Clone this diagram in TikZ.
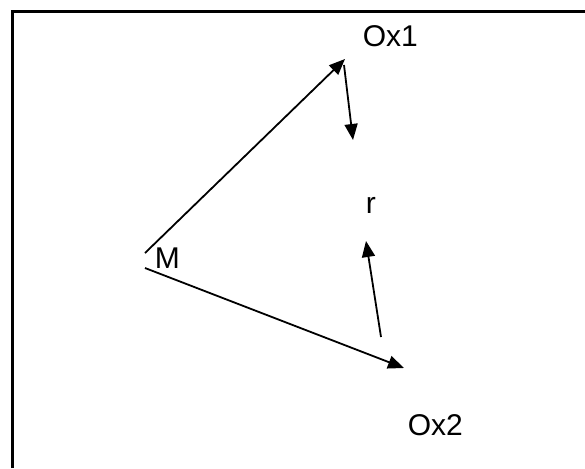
\documentclass[tikz,border=0pt]{standalone}
\usepackage{fontspec}
\setmainfont{Liberation Sans}
\usetikzlibrary{arrows.meta}

\begin{document}
\begin{tikzpicture}[x=1pt,y=-1pt,->,>={Triangle[length=16pt,width=13pt]},
   line width=1.8pt,
   lbl/.style={inner sep=0pt,anchor=base west,font=\fontsize{30}{32}\selectfont}]
\useasboundingbox (0,0) rectangle (585,468);
\draw[-,line width=3pt] (12,468) -- (12,12) -- (585,12);
\node[lbl] (ox1) at (362,47) {Ox1};
\node[lbl] (ox2) at (407,435) {Ox2};
\node[lbl] (r) at (365,213) {r};
\node[lbl] (m) at (154,268) {M};
\coordinate (m1) at (145,253);
\coordinate (m2) at (145,268);
\coordinate (t1) at (345,59);
\coordinate (t2) at (404,368);
\coordinate (d1) at (344,65);
\coordinate (d2) at (353,140);
\coordinate (u1) at (381,337);
\coordinate (u2) at (366,241);
\draw (m1) -- (t1);
\draw (m2) -- (t2);
\draw (d1) -- (d2);
\draw (u1) -- (u2);
\end{tikzpicture}
\end{document}
